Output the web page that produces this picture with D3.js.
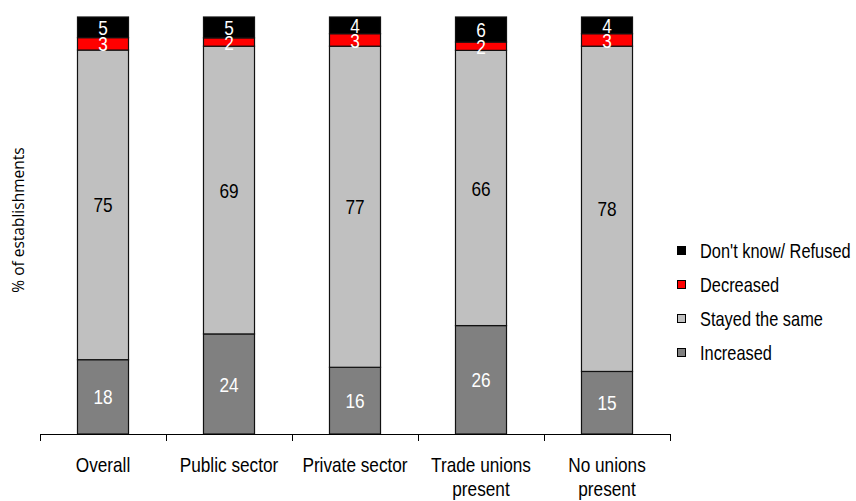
<!DOCTYPE html>
<html>
<head>
<meta charset="utf-8">
<script src="https://cdn.jsdelivr.net/npm/d3@7"></script>
<style>
  html, body { margin: 0; padding: 0; background: #fff; }
  svg { display: block; }
  .cond { font-family: "Liberation Sans", Arial, sans-serif; }
</style>
</head>
<body>
<svg id="chart" width="856" height="501"></svg>
<script>
// Categories (two-line labels split on "|")
const categories = ["Overall", "Public sector", "Private sector", "Trade unions|present", "No unions|present"];
const seriesNames = ["Increased", "Stayed the same", "Decreased", "Don't know/ Refused"];
const increased   = [18, 24, 16, 26, 15];
const stayedSame  = [75, 69, 77, 66, 78];
const decreased   = [3, 2, 3, 2, 3];
const dontKnow    = [5, 5, 4, 6, 4];
const seriesColors = ["#808080", "#C0C0C0", "#FF0000", "#000000"];
const labelColors  = ["#ffffff", "#000000", "#ffffff", "#ffffff"];

// horizontal squeeze for a condensed look
const SQ = 0.82;

const rows = categories.map((c, i) => ({
  cat: c,
  "Increased": increased[i],
  "Stayed the same": stayedSame[i],
  "Decreased": decreased[i],
  "Don't know/ Refused": dontKnow[i]
}));

const svg = d3.select("#chart");
const margin = { left: 40, right: 186, top: 17, bottom: 67 };
const W = 856, H = 501;

const x = d3.scaleBand().domain(categories).range([margin.left, W - margin.right]).paddingInner(0).paddingOuter(0);
const y = d3.scaleLinear().domain([0, 1]).range([H - margin.bottom, margin.top]);
const barW = x.bandwidth() * 0.405;

// 100% stacked layout
const stacked = d3.stack().keys(seriesNames).offset(d3.stackOffsetExpand)(rows);

const g = svg.append("g");
stacked.forEach((layer, si) => {
  g.append("g").selectAll("rect").data(layer).join("rect")
    .attr("x", d => x(d.data.cat) + (x.bandwidth() - barW) / 2)
    .attr("y", d => y(d[1]))
    .attr("width", barW)
    .attr("height", d => y(d[0]) - y(d[1]))
    .attr("fill", seriesColors[si])
    .attr("stroke", "#111")
    .attr("stroke-width", 1.2);
});

// value labels
stacked.forEach((layer, si) => {
  g.append("g").selectAll("text").data(layer).join("text")
    .attr("class", "cond")
    .attr("transform", d => `translate(${x(d.data.cat) + x.bandwidth() / 2},${(y(d[0]) + y(d[1])) / 2}) scale(${SQ},1)`)
    .attr("dy", "0.36em")
    .attr("text-anchor", "middle")
    .attr("font-size", 21)
    .attr("fill", labelColors[si])
    .text(d => d.data[layer.key]);
});

// x axis with ticks at band boundaries
const axisY = H - margin.bottom;
const ax = svg.append("g");
ax.append("line")
  .attr("x1", margin.left).attr("x2", W - margin.right)
  .attr("y1", axisY + 0.5).attr("y2", axisY + 0.5)
  .attr("stroke", "#000").attr("stroke-width", 1);
const bounds = categories.map(c => x(c)).concat([x(categories[categories.length - 1]) + x.bandwidth()]);
ax.selectAll("line.tick").data(bounds).join("line")
  .attr("class", "tick")
  .attr("x1", d => Math.round(d) + 0.5).attr("x2", d => Math.round(d) + 0.5)
  .attr("y1", axisY).attr("y2", axisY + 7)
  .attr("stroke", "#000");
const xl = ax.selectAll("text").data(categories).join("text")
  .attr("class", "cond")
  .attr("text-anchor", "middle")
  .attr("font-size", 21)
  .attr("fill", "#000")
  .attr("transform", d => `translate(${x(d) + x.bandwidth() / 2},${axisY + 38}) scale(${SQ},1)`);
xl.each(function (d) {
  const parts = d.split("|");
  const t = d3.select(this);
  parts.forEach((p, i) => {
    t.append("tspan").attr("x", 0).attr("dy", i === 0 ? 0 : 24.5).text(p);
  });
});

// y axis title
svg.append("text")
  .attr("transform", "translate(24,220) rotate(-90)")
  .attr("text-anchor", "middle")
  .attr("font-family", "'Open Sans', 'Noto Sans', sans-serif")
  .attr("font-size", 15.5)
  .attr("fill", "#000")
  .text("% of establishments");

// legend (top to bottom: reverse stack order)
const legendItems = seriesNames.map((n, i) => ({ name: n, color: seriesColors[i] })).reverse();
const lgd = svg.append("g").attr("transform", "translate(677,251)");
const li = lgd.selectAll("g").data(legendItems).join("g")
  .attr("transform", (d, i) => `translate(0,${i * 34})`);
li.append("rect")
  .attr("x", 0.5).attr("y", -4.5).attr("width", 8).attr("height", 8)
  .attr("fill", d => d.color).attr("stroke", "#000").attr("stroke-width", 1);
li.append("text")
  .attr("class", "cond")
  .attr("transform", `translate(23,0) scale(${SQ},1)`)
  .attr("dy", "0.36em")
  .attr("font-size", 20)
  .attr("fill", "#000")
  .text(d => d.name);
</script>
</body>
</html>
